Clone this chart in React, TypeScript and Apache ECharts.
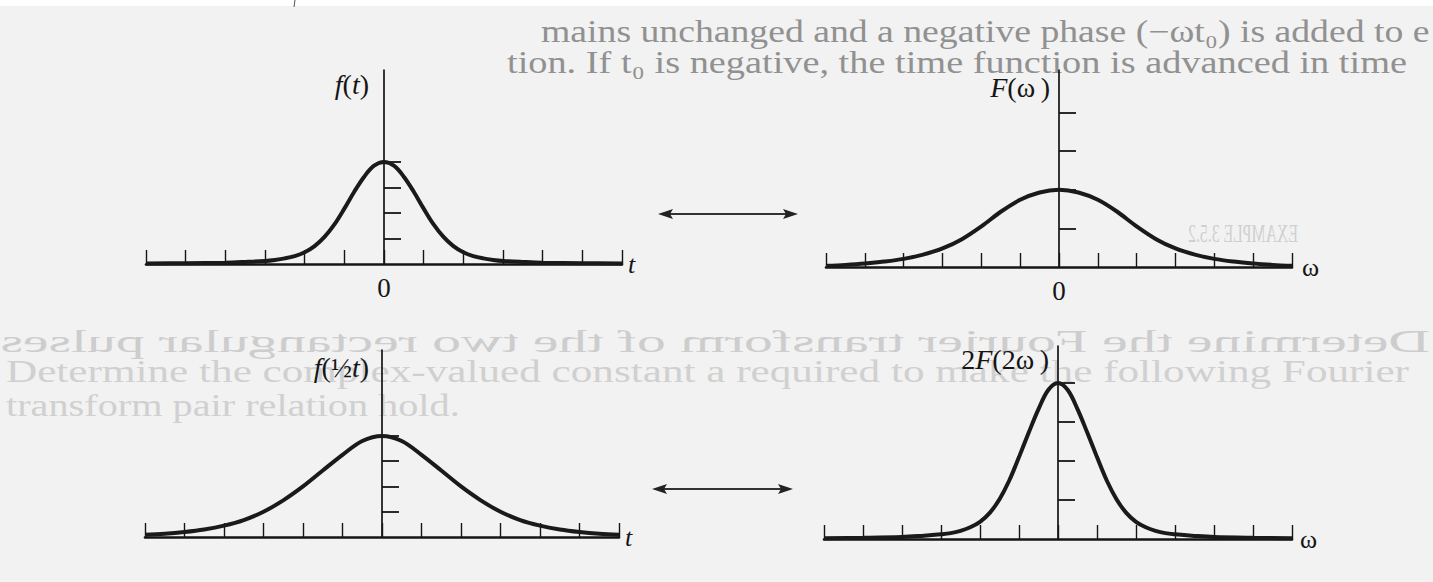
import React, { useEffect, useRef } from "react";
import * as echarts from "echarts";

// ---------- data ----------
// panel 1: f(t)
const ftT = [-6, -5, -4, -3.5, -3, -2.75, -2.5, -2.25, -2, -1.75, -1.5, -1.25, -1, -0.75, -0.5, -0.25, 0, 0.25, 0.5, 0.75, 1, 1.25, 1.5, 1.75, 2, 2.25, 2.5, 2.75, 3, 3.5, 4, 5, 6];
const ftV = [0.02, 0.03, 0.05, 0.08, 0.12, 0.16, 0.22, 0.31, 0.46, 0.7, 1.06, 1.55, 2.17, 2.83, 3.42, 3.85, 4, 3.85, 3.42, 2.83, 2.17, 1.55, 1.06, 0.7, 0.46, 0.31, 0.22, 0.16, 0.12, 0.08, 0.05, 0.03, 0.02];
// panel 2: F(ω)
const FwW = [-6, -5.5, -5, -4.5, -4, -3.5, -3, -2.5, -2, -1.5, -1, -0.5, 0, 0.5, 1, 1.5, 2, 2.5, 3, 3.5, 4, 4.5, 5, 5.5, 6];
const FwV = [0.03, 0.055, 0.09, 0.14, 0.21, 0.32, 0.48, 0.72, 1.05, 1.43, 1.74, 1.93, 2, 1.93, 1.74, 1.43, 1.05, 0.72, 0.48, 0.32, 0.21, 0.14, 0.09, 0.055, 0.03];
// panel 3: f(½t)
const fhT = [-6, -5.5, -5, -4.5, -4, -3.5, -3, -2.5, -2, -1.5, -1, -0.5, 0, 0.5, 1, 1.5, 2, 2.5, 3, 3.5, 4, 4.5, 5, 5.5, 6];
const fhV = [0.09, 0.13, 0.2, 0.3, 0.45, 0.67, 1.0, 1.45, 2.0, 2.63, 3.25, 3.8, 4, 3.8, 3.25, 2.63, 2.0, 1.45, 1.0, 0.67, 0.45, 0.3, 0.2, 0.13, 0.09];
// panel 4: 2F(2ω)
const F2W = [-6, -5, -4, -3.5, -3, -2.75, -2.5, -2.25, -2, -1.75, -1.5, -1.25, -1, -0.75, -0.5, -0.25, 0, 0.25, 0.5, 0.75, 1, 1.25, 1.5, 1.75, 2, 2.25, 2.5, 2.75, 3, 3.5, 4, 5, 6];
const F2V = [0.02, 0.03, 0.05, 0.08, 0.12, 0.15, 0.21, 0.3, 0.44, 0.67, 1.02, 1.5, 2.1, 2.73, 3.33, 3.82, 4, 3.82, 3.33, 2.73, 2.1, 1.5, 1.02, 0.67, 0.44, 0.3, 0.21, 0.15, 0.12, 0.08, 0.05, 0.03, 0.02];

const Y_TICKS = [1, 2, 3, 4];
const X_LABELS = [0];
const PANEL_FUNC = ["{i|f}({i|t})", "{i|F}(ω\u2009)", "{i|f}(½{i|t})", "2{i|F}(2ω\u2009)"];
const PANEL_VAR = ["t", "ω", "t", "ω"];

const INK = "#151515";
const SERIF = "'Liberation Serif', 'DejaVu Serif', serif";

// ghost (bleed-through) text of the scanned page
const GHOST = [
  { text: "mains unchanged and a negative phase (−ωt₀) is added to e", x1: 541, x2: 1430, y: 31, size: 28, color: "#919191", mirror: false },
  { text: "tion. If t₀ is negative, the time function is advanced in time", x1: 507, x2: 1407, y: 63, size: 28, color: "#919191", mirror: false },
  { text: "EXAMPLE 3.5.2", x1: 1188, x2: 1298, y: 234, size: 22, color: "#cfcfcf", mirror: true },
  { text: "Determine the Fourier transform of the two rectangular pulses", x1: 0, x2: 1430, y: 342, size: 28, color: "#cdcdcd", mirror: true },
  { text: "Determine the complex-valued constant a required to make the following Fourier", x1: 6, x2: 1410, y: 372, size: 28, color: "#d0d0d0", mirror: false },
  { text: "transform pair relation hold.", x1: 6, x2: 460, y: 406, size: 28, color: "#d0d0d0", mirror: false },
];

function measure(text: string, font: string): number {
  const c = document.createElement("canvas").getContext("2d");
  if (!c) return text.length * 12;
  c.font = font;
  return c.measureText(text).width;
}

export default function App() {
  const ref = useRef<HTMLDivElement>(null);
  useEffect(() => {
    document.body.style.margin = "0";
    if (!ref.current) return;
    const chart = echarts.init(ref.current, undefined, { renderer: "svg" });

    const grids = [
      { left: 146, top: 70, width: 476, height: 194, ymax: 7.6 },
      { left: 826, top: 70, width: 466, height: 197, ymax: 5.1 },
      { left: 145, top: 350, width: 474, height: 187, ymax: 7.4 },
      { left: 824, top: 346, width: 468, height: 193, ymax: 4.95 },
    ];
    const datasets = [
      [ftT, ftV],
      [FwW, FwV],
      [fhT, fhV],
      [F2W, F2V],
    ];
    const nameGaps = [6, 10, 6, 8];

    const ghostEls: any[] = GHOST.map((g) => {
      const font = `${g.size}px 'Liberation Serif'`;
      const w = measure(g.text, font);
      const s = (g.x2 - g.x1) / w;
      return {
        type: "text",
        x: g.mirror ? g.x2 : g.x1,
        y: g.y,
        scaleX: g.mirror ? -s : s,
        scaleY: 1.1,
        silent: true,
        z: -10,
        style: {
          text: g.text,
          fontFamily: "'Liberation Serif'",
          fontSize: g.size,
          fill: g.color,
          align: "left",
          verticalAlign: "middle",
        },
      };
    });

    const funcLabels = [
      { x: 369, y: 84 },
      { x: 1050, y: 87 },
      { x: 369, y: 367 },
      { x: 1049, y: 359 },
    ].map((p, i) => ({
      type: "text",
      x: p.x,
      y: p.y,
      style: {
        text: PANEL_FUNC[i],
        fontFamily: SERIF,
        fontSize: 28,
        fill: INK,
        align: "right",
        verticalAlign: "middle",
        rich: { i: { fontStyle: "italic", fontFamily: SERIF, fontSize: 28, fill: INK } },
      },
    }));

    const arrow = (x1: number, x2: number, y: number) => ({
      type: "group",
      children: [
        { type: "line", shape: { x1: x1 + 10, y1: y, x2: x2 - 10, y2: y }, style: { stroke: "#333", lineWidth: 2 } },
        { type: "polygon", shape: { points: [[x1, y], [x1 + 15, y - 5], [x1 + 12, y], [x1 + 15, y + 5]] }, style: { fill: "#222" } },
        { type: "polygon", shape: { points: [[x2, y], [x2 - 15, y - 5], [x2 - 12, y], [x2 - 15, y + 5]] }, style: { fill: "#222" } },
      ],
    });

    const option: any = {
      animation: false,
      backgroundColor: "#f2f2f2",
      grid: grids.map((g) => ({ left: g.left, top: g.top, width: g.width, height: g.height, containLabel: false })),
      xAxis: grids.map((g, i) => ({
        type: "value",
        gridIndex: i,
        min: -6,
        max: 6,
        interval: 1,
        name: PANEL_VAR[i],
        nameLocation: "end",
        nameGap: nameGaps[i],
        nameTextStyle: {
          fontFamily: SERIF,
          fontSize: 26,
          fontStyle: PANEL_VAR[i] === "t" ? "italic" : "normal",
          color: INK,
          verticalAlign: "middle",
          padding: [4, 0, 0, 0],
        },
        axisLine: { show: true, onZero: true, lineStyle: { color: INK, width: 2.6 } },
        axisTick: { show: true, inside: true, length: 14, lineStyle: { color: INK, width: 1.4 } },
        axisLabel: {
          show: i < 2,
          customValues: X_LABELS,
          fontFamily: SERIF,
          fontSize: 27,
          color: INK,
          margin: 10,
        },
        splitLine: { show: false },
      })),
      yAxis: grids.map((g, i) => ({
        type: "value",
        gridIndex: i,
        min: 0,
        max: g.ymax,
        axisLine: { show: true, onZero: true, lineStyle: { color: INK, width: 1.7 } },
        axisTick: { show: true, inside: true, length: 17, customValues: Y_TICKS, lineStyle: { color: INK, width: 1.8 } },
        axisLabel: { show: false, customValues: Y_TICKS },
        splitLine: { show: false },
      })),
      series: datasets.map(([xs, ys], i) => ({
        type: "line",
        xAxisIndex: i,
        yAxisIndex: i,
        data: xs.map((x, k) => [x, ys[k]]),
        smooth: 0.35,
        showSymbol: false,
        clip: false,
        lineStyle: { color: "#1a1a1a", width: 4 },
        z: 3,
      })),
      graphic: [
        { type: "rect", shape: { x: 0, y: 0, width: 1433, height: 6 }, style: { fill: "#ffffff" }, z: -5 },
        { type: "line", shape: { x1: 295, y1: 0, x2: 294, y2: 7 }, style: { stroke: "#555", lineWidth: 1 } },
        ...ghostEls,
        ...funcLabels,
        arrow(658, 798, 214),
        arrow(652, 793, 489),
      ],
    };
    chart.setOption(option);
    return () => chart.dispose();
  }, []);
  return <div ref={ref} style={{ width: 1433, height: 582 }} />;
}
